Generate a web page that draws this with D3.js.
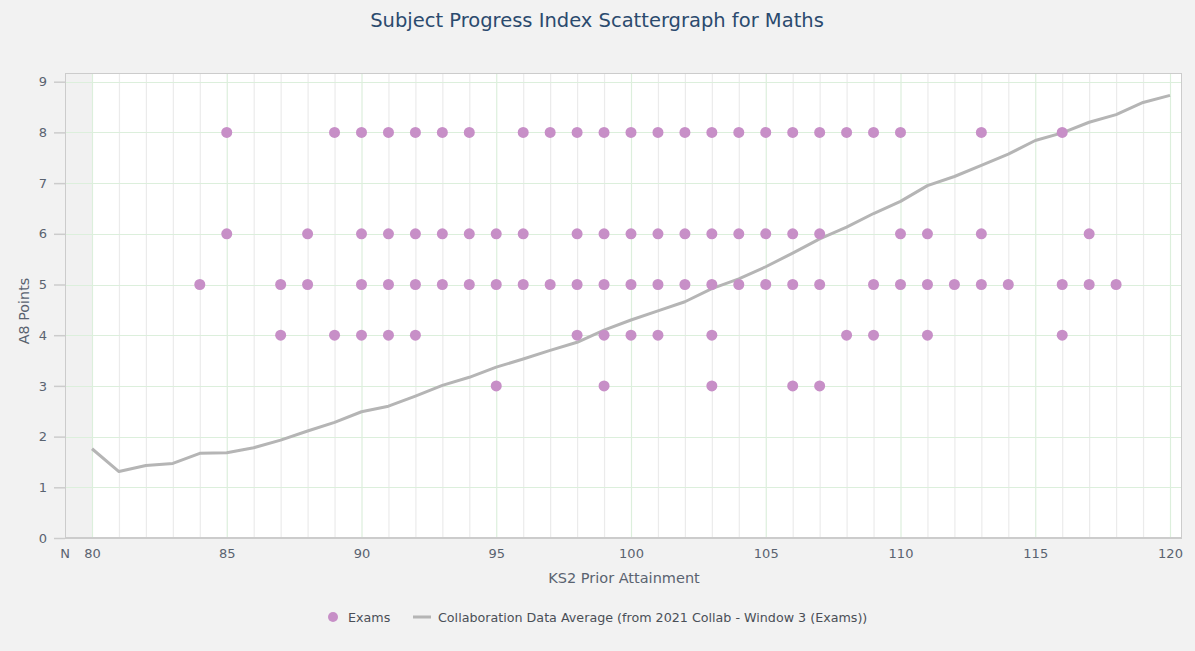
<!DOCTYPE html>
<html><head><meta charset="utf-8">
<script src="https://cdn.jsdelivr.net/npm/d3@7"></script>
<style>html,body{margin:0;padding:0;background:#f2f2f2;}</style>
</head><body>
<svg id="c" width="1195" height="651"></svg>
<script>
const title = "Subject Progress Index Scattergraph for Maths";
const xTitle = "KS2 Prior Attainment";
const yTitle = "A8 Points";
const seriesNames = ["Exams", "Collaboration Data Average (from 2021 Collab - Window 3 (Exams))"];
const xTicks = [80, 85, 90, 95, 100, 105, 110, 115, 120];
const yTicks = [0,1,2,3,4,5,6,7,8,9];
// Exams scatter: KS2 score and A8 points
const examsX = [85,89,90,91,92,93,94,96,97,98,99,100,101,102,103,104,105,106,107,108,109,110,113,116,
  85,88,90,91,92,93,94,95,96,98,99,100,101,102,103,104,105,106,107,110,111,113,117,
  84,87,88,90,91,92,93,94,95,96,97,98,99,100,101,102,103,104,105,106,107,109,110,111,112,113,114,116,117,118,
  87,89,90,91,92,98,99,100,101,103,108,109,111,116,
  95,99,103,106,107];
const examsY = [8,8,8,8,8,8,8,8,8,8,8,8,8,8,8,8,8,8,8,8,8,8,8,8,
  6,6,6,6,6,6,6,6,6,6,6,6,6,6,6,6,6,6,6,6,6,6,6,
  5,5,5,5,5,5,5,5,5,5,5,5,5,5,5,5,5,5,5,5,5,5,5,5,5,5,5,5,5,5,
  4,4,4,4,4,4,4,4,4,4,4,4,4,4,
  3,3,3,3,3];
// Collaboration average line
const avgX = [80,81,82,83,84,85,86,87,88,89,90,91,92,93,94,95,96,97,98,99,100,
  101,102,103,104,105,106,107,108,109,110,111,112,113,114,115,116,117,118,119,120];
const avgY = [1.76,1.31,1.43,1.47,1.67,1.68,1.78,1.93,2.11,2.28,2.49,2.60,2.80,3.01,3.17,3.37,3.53,3.70,3.86,4.10,4.30,
  4.48,4.66,4.92,5.11,5.35,5.62,5.90,6.13,6.40,6.64,6.95,7.13,7.35,7.57,7.84,7.99,8.20,8.35,8.59,8.73];

const svg = d3.select("#c");
const L = 65, R = 1182, T = 73, B = 538;
const x = d3.scaleLinear().domain([80,120]).range([92,1170]);
const y = d3.scaleLinear().domain([0,9]).range([538,81.7]);
const x0 = x.invert(L);

svg.append("rect").attr("width",1195).attr("height",651).attr("fill","#f2f2f2");
svg.append("rect").attr("x",L).attr("y",T).attr("width",R-L).attr("height",B-T).attr("fill","#fff");
// N strip
svg.append("rect").attr("x",x(x0)).attr("y",T).attr("width",x(80)-x(x0)).attr("height",B-T).attr("fill","#f1f1f1");

// vertical grid
const vg = d3.range(81,121);
svg.append("g").selectAll("line").data(vg).join("line")
  .attr("x1",d=>x(d)+0.5).attr("x2",d=>x(d)+0.5).attr("y1",T).attr("y2",B)
  .attr("stroke",d=>d%5===0?"#dcefdc":"#ebebeb").attr("stroke-width",1.2);
svg.append("line").attr("x1",x(80)+0.5).attr("x2",x(80)+0.5).attr("y1",T).attr("y2",B).attr("stroke","#dcefdc").attr("stroke-width",1.2);
// horizontal grid
svg.append("g").selectAll("line").data(yTicks.filter(d=>d>0)).join("line")
  .attr("x1",L).attr("x2",R).attr("y1",d=>Math.round(y(d))+0.5).attr("y2",d=>Math.round(y(d))+0.5)
  .attr("stroke","#dcefdc").attr("stroke-width",1.2);

// border
svg.append("rect").attr("x",L+0.5).attr("y",T+0.5).attr("width",R-L-1).attr("height",B-T).attr("fill","none").attr("stroke","#cccccc");
// bottom axis line
svg.append("line").attr("x1",L).attr("x2",R).attr("y1",B).attr("y2",B).attr("stroke","#cccccc").attr("stroke-width",2);

// y axis
const yAx = d3.axisLeft(y).tickValues(yTicks).tickSize(11).tickPadding(7).tickFormat(d3.format("d"));
const gy = svg.append("g").attr("transform",`translate(${L},0)`).call(yAx);
gy.select(".domain").remove();
gy.selectAll(".tick line").attr("stroke","#cccccc").attr("stroke-width",1.5);
gy.selectAll("text").attr("fill","#5a6370").style("font-family","DejaVu Sans").style("font-size","13px");

// x axis
const xAx = d3.axisBottom(x).tickValues(xTicks).tickSize(0).tickPadding(11).tickFormat(d3.format("d"));
const gx = svg.append("g").attr("transform",`translate(0,${B})`).call(xAx);
gx.select(".domain").remove();
gx.selectAll("text").attr("fill","#5a6370").style("font-family","DejaVu Sans").style("font-size","13px");
svg.append("text").attr("x",L).attr("y",B+11).attr("dy","0.71em").attr("text-anchor","middle").attr("fill","#5a6370")
  .style("font-family","DejaVu Sans").style("font-size","13px").text("N");

// axis titles
svg.append("text").attr("x",624).attr("y",583).attr("text-anchor","middle").attr("fill","#5a6370")
  .style("font-family","DejaVu Sans").style("font-size","14.5px").text(xTitle);
svg.append("text").attr("transform","translate(29,311) rotate(-90)").attr("text-anchor","middle").attr("fill","#5a6370")
  .style("font-family","DejaVu Sans").style("font-size","14.3px").text(yTitle);

// title
svg.append("text").attr("x",597).attr("y",27).attr("text-anchor","middle").attr("fill","#2b4a6e")
  .style("font-family","DejaVu Sans").style("font-size","19.5px").text(title);

// line
const line = d3.line().x(d=>x(d[0])).y(d=>y(d[1]));
svg.append("path").datum(avgX.map((v,i)=>[v,avgY[i]])).attr("d",line)
  .attr("fill","none").attr("stroke","#b5b5b5").attr("stroke-width",3).attr("stroke-linejoin","round");

// points
svg.append("g").selectAll("circle").data(examsX.map((v,i)=>[v,examsY[i]])).join("circle")
  .attr("cx",d=>x(d[0])).attr("cy",d=>y(d[1])).attr("r",5.5).attr("fill","#c78fc7");

// legend
const lg = svg.append("g");
lg.append("circle").attr("cx",333).attr("cy",617).attr("r",5).attr("fill","#c78fc7");
lg.append("text").attr("x",348).attr("y",622).attr("fill","#4a4f57").style("font-family","DejaVu Sans").style("font-size","12.7px").text(seriesNames[0]);
lg.append("line").attr("x1",413).attr("x2",431).attr("y1",617).attr("y2",617).attr("stroke","#b5b5b5").attr("stroke-width",3);
lg.append("text").attr("x",438).attr("y",622).attr("fill","#4a4f57").style("font-family","DejaVu Sans").style("font-size","12.7px").text(seriesNames[1]);
</script>
</body></html>
